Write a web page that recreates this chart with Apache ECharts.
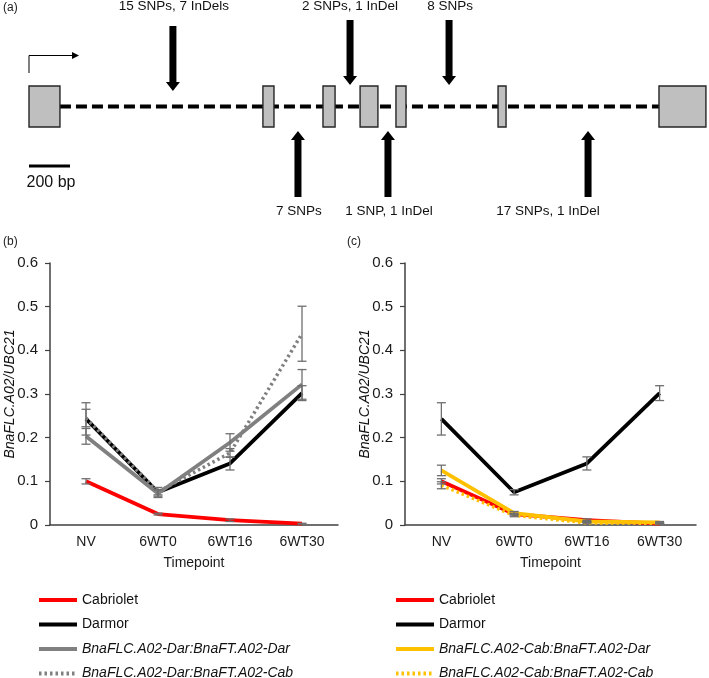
<!DOCTYPE html>
<html>
<head>
<meta charset="utf-8">
<script src="https://cdn.jsdelivr.net/npm/echarts@6/dist/echarts.min.js"></script>
<style>
  html, body { margin: 0; padding: 0; background: #fff; }
  #chart { width: 709px; height: 678px; }
</style>
</head>
<body>
<div id="chart"></div>
<script>
// ---- (b) / (c) expression data ----
const timepoints = ['NV', '6WT0', '6WT16', '6WT30'];

const cabriolet    = [0.100, 0.025, 0.011, 0.003];
const cabrioletErr = [0.006, 0.002, 0.003, 0.001];
const darmor       = [0.243, 0.075, 0.141, 0.302];
const darmorErr    = [0.037, 0.006, 0.015, 0.017];
const darDar       = [0.203, 0.072, 0.189, 0.322];
const darDarErr    = [0.018, 0.009, 0.020, 0.034];
const darCab       = [0.245, 0.076, 0.165, 0.438];
const darCabErr    = [0.020, 0.010, 0.010, 0.063];
const cabDar       = [0.125, 0.027, 0.008, 0.006];
const cabDarErr    = [0.012, 0.004, 0.002, 0.002];
const cabCab       = [0.091, 0.022, 0.005, 0.004];
const cabCabErr    = [0.008, 0.003, 0.001, 0.001];

const yMin = 0, yMax = 0.6, yStep = 0.1;

// ---- (a) gene model, positions in bp ----
const exons = [[0, 151], [1141, 1195], [1434, 1493], [1615, 1702], [1790, 1839], [2288, 2327], [3073, 3302]];
const snpPos      = [702, 1566, 2049, 1312, 1751, 2727];
const snpSide     = ['top', 'top', 'top', 'bottom', 'bottom', 'bottom'];
const snpLabels   = ['15 SNPs, 7 InDels', '2 SNPs, 1 InDel', '8 SNPs', '7 SNPs', '1 SNP, 1 InDel', '17 SNPs, 1 InDel'];
const snpLabelPos = [707, 1566, 2054, 1317, 1756, 2532];
const tssPos = 0;
const scaleBar = [0, 200];
const scaleBarLabel = '200 bp';

const FONT = '"Liberation Sans", Arial, sans-serif';
const ERR_COLOR = '#6e6e6e';

const chart = echarts.init(document.getElementById('chart'));

function pair(vals, errs) {
  return vals.map((v, i) => [i, v - errs[i], v + errs[i]]);
}

function errorBars(params, api) {
  const x = api.value(0);
  const lo = api.coord([x, api.value(1)]);
  const hi = api.coord([x, api.value(2)]);
  const w = 4.5;
  const st = { stroke: ERR_COLOR, lineWidth: 1.3 };
  return {
    type: 'group',
    children: [
      { type: 'line', shape: { x1: lo[0], y1: lo[1], x2: hi[0], y2: hi[1] }, style: st },
      { type: 'line', shape: { x1: lo[0] - w, y1: lo[1], x2: lo[0] + w, y2: lo[1] }, style: st },
      { type: 'line', shape: { x1: hi[0] - w, y1: hi[1], x2: hi[0] + w, y2: hi[1] }, style: st }
    ]
  };
}

function lineSeries(name, data, color, gridIdx, dotted, z) {
  return {
    name: name,
    type: 'line',
    xAxisIndex: gridIdx,
    yAxisIndex: gridIdx,
    data: data,
    symbol: 'none',
    z: z,
    lineStyle: {
      color: color,
      width: dotted ? 3.5 : 3.8,
      type: dotted ? [2.5, 3] : 'solid',
      cap: 'butt'
    },
    itemStyle: { color: color },
    emphasis: { disabled: true }
  };
}

function errSeries(vals, errs, gridIdx) {
  return {
    type: 'custom',
    xAxisIndex: gridIdx,
    yAxisIndex: gridIdx,
    renderItem: errorBars,
    data: pair(vals, errs),
    encode: { x: 0, y: [1, 2] },
    z: 10,
    silent: true
  };
}

// panel (a) layout in pixel units of the hidden y axis
const EXON_TOP = 86, EXON_BOT = 127, INTRON_Y = 106.5;

function intronItem(params, api) {
  const a = api.coord([api.value(0), INTRON_Y]);
  const b = api.coord([api.value(1), INTRON_Y]);
  return {
    type: 'line',
    shape: { x1: a[0], y1: a[1], x2: b[0], y2: b[1] },
    style: { stroke: '#000', lineWidth: 4, lineDash: [11, 5] }
  };
}

function exonItem(params, api) {
  const a = api.coord([api.value(0), EXON_TOP]);
  const b = api.coord([api.value(1), EXON_BOT]);
  return {
    type: 'rect',
    shape: { x: a[0], y: a[1], width: b[0] - a[0], height: b[1] - a[1] },
    style: { fill: '#bfbfbf', stroke: '#262626', lineWidth: 1.4 }
  };
}

function arrowItem(params, api) {
  const i = params.dataIndex;
  const x = api.coord([api.value(0), 0])[0];
  const lx = api.coord([api.value(1), 0])[0];
  const sw = 3.5, hw = 7, hh = 9;
  let pts, ty;
  if (snpSide[i] === 'top') {
    const top = i === 0 ? 26 : 20;
    const tip = i === 0 ? 91 : 85;
    pts = [[x - sw, top], [x + sw, top], [x + sw, tip - hh], [x + hw, tip - hh], [x, tip],
           [x - hw, tip - hh], [x - sw, tip - hh]];
    ty = 6;
  } else {
    const tip = 131, bot = 197;
    pts = [[x - sw, bot], [x + sw, bot], [x + sw, tip + hh], [x + hw, tip + hh], [x, tip],
           [x - hw, tip + hh], [x - sw, tip + hh]];
    ty = 211;
  }
  return {
    type: 'group',
    children: [
      { type: 'polygon', shape: { points: pts }, style: { fill: '#000' } },
      {
        type: 'text',
        style: {
          x: lx, y: ty, text: snpLabels[i], fill: '#111',
          font: '13.5px ' + FONT, align: 'center', verticalAlign: 'middle'
        }
      }
    ]
  };
}

function tssItem(params, api) {
  const x = api.coord([api.value(0), 0])[0];
  const x2 = x + 43;
  return {
    type: 'group',
    children: [
      { type: 'polyline', shape: { points: [[x, 73], [x, 55.5], [x2, 55.5]] },
        style: { stroke: '#000', lineWidth: 1, fill: null } },
      { type: 'polygon', shape: { points: [[x2, 52], [x2 + 7, 55.5], [x2, 59]] }, style: { fill: '#000' } }
    ]
  };
}

function scaleItem(params, api) {
  const a = api.coord([api.value(0), 166]);
  const b = api.coord([api.value(1), 166]);
  return {
    type: 'group',
    children: [
      { type: 'line', shape: { x1: a[0], y1: a[1], x2: b[0], y2: b[1] }, style: { stroke: '#000', lineWidth: 3 } },
      { type: 'text', style: { x: (a[0] + b[0]) / 2 + 1.5, y: 183, text: scaleBarLabel, fill: '#111',
        font: '16px ' + FONT, align: 'center', verticalAlign: 'middle' } }
    ]
  };
}

function valueAxis(gridIdx, nameGap) {
  return {
    type: 'value', gridIndex: gridIdx, min: yMin, max: yMax, interval: yStep,
    name: 'BnaFLC.A02/UBC21', nameLocation: 'middle', nameGap: nameGap, nameRotate: 90,
    nameMoveOverlap: false,
    nameTextStyle: { fontFamily: FONT, fontSize: 14, fontStyle: 'italic', color: '#111' },
    axisLine: { show: true, lineStyle: { color: '#404040', width: 1.5 } },
    axisTick: { show: true, length: 5, lineStyle: { color: '#404040', width: 1.2 } },
    axisLabel: { fontFamily: FONT, fontSize: 15, color: '#1a1a1a', margin: 12 },
    splitLine: { show: false }
  };
}

function catAxis(gridIdx) {
  return {
    type: 'category', gridIndex: gridIdx, data: timepoints, boundaryGap: true,
    name: 'Timepoint', nameLocation: 'middle', nameGap: 31,
    nameTextStyle: { fontFamily: FONT, fontSize: 14, color: '#1a1a1a' },
    axisLine: { lineStyle: { color: '#404040', width: 1.5 } },
    axisTick: { length: 5, lineStyle: { color: '#404040', width: 1.2 } },
    axisLabel: { fontFamily: FONT, fontSize: 14, color: '#1a1a1a', margin: 10 },
    splitLine: { show: false }
  };
}

const italic = { fontStyle: 'italic' };

function legendBlock(left, names) {
  return {
    orient: 'vertical', left: left, top: 593, height: 100, padding: 0,
    itemWidth: 38, itemHeight: 14, itemGap: 10.5,
    textStyle: { fontFamily: FONT, fontSize: 14, color: '#111' },
    itemStyle: { opacity: 0 },
    lineStyle: { width: 4 },
    selectedMode: false,
    data: names.map((n, i) => (i < 2 ? { name: n } : { name: n, textStyle: italic }))
  };
}

const titleStyle = { fontSize: 12, fontWeight: 'normal', color: '#222', fontFamily: FONT };

const option = {
  animation: false,
  backgroundColor: '#fff',
  textStyle: { fontFamily: FONT },
  title: [
    { text: '(a)', left: 3, top: 2, padding: 0, textStyle: titleStyle },
    { text: '(b)', left: 3, top: 236, padding: 0, textStyle: titleStyle },
    { text: '(c)', left: 347, top: 236, padding: 0, textStyle: titleStyle }
  ],
  grid: [
    { left: 29, top: 0, width: 680, height: 230 },
    { left: 50, top: 263, width: 288, height: 262 },
    { left: 405, top: 263, width: 291, height: 262 }
  ],
  xAxis: [
    { type: 'value', gridIndex: 0, min: 0, max: 3317, show: false },
    catAxis(1),
    catAxis(2)
  ],
  yAxis: [
    { type: 'value', gridIndex: 0, min: 0, max: 230, inverse: true, show: false },
    valueAxis(1, 33),
    valueAxis(2, 33)
  ],
  legend: [
    legendBlock(37, ['Cabriolet', 'Darmor', 'BnaFLC.A02-Dar:BnaFT.A02-Dar', 'BnaFLC.A02-Dar:BnaFT.A02-Cab']),
    legendBlock(394, ['Cabriolet ', 'Darmor ', 'BnaFLC.A02-Cab:BnaFT.A02-Dar', 'BnaFLC.A02-Cab:BnaFT.A02-Cab'])
  ],
  series: [
    // (a) gene model
    { type: 'custom', xAxisIndex: 0, yAxisIndex: 0, z: 1, silent: true, renderItem: intronItem,
      data: [[exons[0][1], exons[exons.length - 1][0]]] },
    { type: 'custom', xAxisIndex: 0, yAxisIndex: 0, z: 2, silent: true, renderItem: exonItem, data: exons },
    { type: 'custom', xAxisIndex: 0, yAxisIndex: 0, z: 3, silent: true, renderItem: arrowItem,
      data: snpPos.map((p, i) => [p, snpLabelPos[i]]) },
    { type: 'custom', xAxisIndex: 0, yAxisIndex: 0, z: 3, silent: true, renderItem: tssItem, data: [[tssPos]] },
    { type: 'custom', xAxisIndex: 0, yAxisIndex: 0, z: 3, silent: true, renderItem: scaleItem, data: [scaleBar] },

    // (b)
    lineSeries('Cabriolet', cabriolet, '#ff0000', 1, false, 2),
    lineSeries('Darmor', darmor, '#000000', 1, false, 3),
    lineSeries('BnaFLC.A02-Dar:BnaFT.A02-Dar', darDar, '#808080', 1, false, 4),
    lineSeries('BnaFLC.A02-Dar:BnaFT.A02-Cab', darCab, '#808080', 1, true, 5),
    errSeries(cabriolet, cabrioletErr, 1),
    errSeries(darmor, darmorErr, 1),
    errSeries(darDar, darDarErr, 1),
    errSeries(darCab, darCabErr, 1),

    // (c)
    lineSeries('Darmor ', darmor, '#000000', 2, false, 2),
    lineSeries('Cabriolet ', cabriolet, '#ff0000', 2, false, 3),
    lineSeries('BnaFLC.A02-Cab:BnaFT.A02-Dar', cabDar, '#ffc000', 2, false, 4),
    lineSeries('BnaFLC.A02-Cab:BnaFT.A02-Cab', cabCab, '#ffc000', 2, true, 5),
    errSeries(cabriolet, cabrioletErr, 2),
    errSeries(darmor, darmorErr, 2),
    errSeries(cabDar, cabDarErr, 2),
    errSeries(cabCab, cabCabErr, 2)
  ]
};

chart.setOption(option);
</script>
</body>
</html>
